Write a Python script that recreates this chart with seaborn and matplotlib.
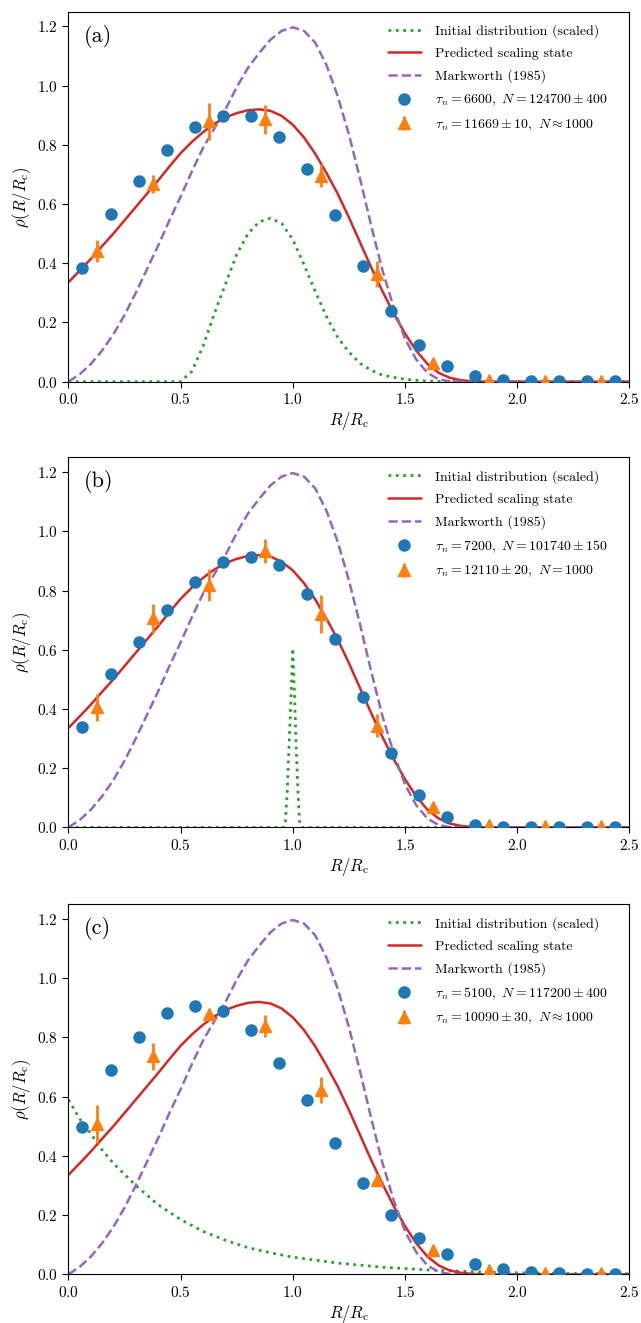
import matplotlib
matplotlib.use("Agg")
import matplotlib.pyplot as plt
import seaborn as sns

# ---------------- data ----------------
# Predicted scaling state (same in all panels)
red_x = [0.0, 0.05, 0.1, 0.15, 0.2, 0.25, 0.3, 0.35, 0.4, 0.45, 0.5, 0.55, 0.6, 0.65,
         0.7, 0.75, 0.8, 0.85, 0.9, 0.95, 1.0, 1.05, 1.1, 1.15, 1.2, 1.25, 1.3, 1.35,
         1.4, 1.45, 1.5, 1.55, 1.6, 1.65, 1.7, 1.75, 1.8, 1.85, 2.0, 2.5]
red_y = [0.336, 0.375, 0.415, 0.458, 0.50, 0.545, 0.59, 0.635, 0.68, 0.727, 0.772, 0.81,
         0.843, 0.871, 0.893, 0.907, 0.917, 0.92, 0.915, 0.898, 0.868, 0.825, 0.77, 0.705,
         0.635, 0.555, 0.47, 0.385, 0.305, 0.23, 0.163, 0.105, 0.06, 0.03, 0.013, 0.005,
         0.0015, 0.0, 0.0, 0.0]

# Markworth (1985)
mw_x = [0.0, 0.05, 0.1, 0.15, 0.2, 0.25, 0.3, 0.35, 0.4, 0.45, 0.5, 0.55, 0.6, 0.65,
        0.7, 0.75, 0.8, 0.85, 0.9, 0.95, 1.0, 1.05, 1.1, 1.15, 1.2, 1.25, 1.3, 1.35,
        1.4, 1.45, 1.5, 1.55, 1.6, 1.65, 1.7, 1.75, 2.5]
mw_y = [0.0, 0.025, 0.06, 0.105, 0.16, 0.225, 0.30, 0.38, 0.46, 0.545, 0.625, 0.71,
        0.79, 0.855, 0.92, 0.995, 1.06, 1.11, 1.155, 1.185, 1.197, 1.185, 1.145, 1.07,
        0.965, 0.835, 0.685, 0.525, 0.375, 0.25, 0.145, 0.075, 0.03, 0.008, 0.001, 0.0, 0.0]

# Initial distributions (scaled)
init_a_x = [0.0, 0.5, 0.55, 0.6, 0.65, 0.7, 0.75, 0.8, 0.85, 0.9, 0.95, 1.0, 1.05, 1.1,
            1.15, 1.2, 1.25, 1.3, 1.35, 1.4, 1.5, 1.6, 1.7, 2.5]
init_a_y = [0.0, 0.0, 0.035, 0.12, 0.23, 0.33, 0.43, 0.50, 0.54, 0.552, 0.535, 0.48,
            0.395, 0.305, 0.22, 0.15, 0.10, 0.062, 0.038, 0.022, 0.008, 0.002, 0.0, 0.0]

init_b_x = [0.0, 0.96, 0.967, 0.975, 0.983, 0.992, 1.0, 1.008, 1.015, 1.023, 1.030, 1.04, 2.5]
init_b_y = [0.0, 0.0, 0.02, 0.12, 0.27, 0.44, 0.605, 0.44, 0.27, 0.12, 0.02, 0.0, 0.0]

init_c_x = [0.0, 0.05, 0.1, 0.15, 0.2, 0.3, 0.4, 0.5, 0.6, 0.7, 0.8, 0.9, 1.0, 1.2,
            1.4, 1.6, 1.8, 2.0, 2.25, 2.5]
init_c_y = [0.59, 0.525, 0.475, 0.42, 0.375, 0.30, 0.235, 0.185, 0.145, 0.115, 0.09,
            0.073, 0.058, 0.038, 0.024, 0.015, 0.009, 0.005, 0.003, 0.002]

# Simulation bins
circ_x = [0.0625, 0.1875, 0.3125, 0.4375, 0.5625, 0.6875, 0.8125, 0.9375, 1.0625, 1.1875,
          1.3125, 1.4375, 1.5625, 1.6875, 1.8125, 1.9375, 2.0625, 2.1875, 2.3125, 2.4375]
tri_x = [0.125, 0.375, 0.625, 0.875, 1.125, 1.375, 1.625, 1.875, 2.125, 2.375]

circ_a = [0.385, 0.565, 0.677, 0.781, 0.861, 0.899, 0.899, 0.828, 0.72, 0.562,
          0.392, 0.238, 0.123, 0.052, 0.018, 0.007, 0.002, 0.002, 0.001, 0.001]
tri_a = [0.442, 0.667, 0.879, 0.886, 0.696, 0.364, 0.064, 0.006, 0.003, 0.003]
tri_a_err = [0.037, 0.031, 0.062, 0.048, 0.04, 0.045, 0.01, 0.002, 0.001, 0.001]

circ_b = [0.338, 0.518, 0.625, 0.735, 0.829, 0.896, 0.913, 0.887, 0.789, 0.637,
          0.442, 0.251, 0.110, 0.035, 0.008, 0.003, 0.001, 0.001, 0.0005, 0.0005]
tri_b = [0.406, 0.706, 0.819, 0.933, 0.721, 0.344, 0.068, 0.009, 0.005, 0.005]
tri_b_err = [0.045, 0.049, 0.053, 0.04, 0.064, 0.038, 0.01, 0.002, 0.001, 0.001]

circ_c = [0.498, 0.689, 0.802, 0.883, 0.905, 0.890, 0.825, 0.715, 0.588, 0.442,
          0.310, 0.202, 0.124, 0.068, 0.036, 0.017, 0.009, 0.005, 0.002, 0.001]
tri_c = [0.507, 0.736, 0.881, 0.839, 0.623, 0.319, 0.081, 0.014, 0.006, 0.005]
tri_c_err = [0.065, 0.046, 0.01, 0.036, 0.044, 0.02, 0.01, 0.002, 0.001, 0.001]

panel_labels = ["(a)", "(b)", "(c)"]
circ_labels = [r"$\tau_n = 6600,\ N = 124700 \pm 400$",
               r"$\tau_n = 7200,\ N = 101740 \pm 150$",
               r"$\tau_n = 5100,\ N = 117200 \pm 400$"]
tri_labels = [r"$\tau_n = 11669 \pm 10,\ N \approx 1000$",
              r"$\tau_n = 12110 \pm 20,\ N = 1000$",
              r"$\tau_n = 10090 \pm 30,\ N \approx 1000$"]

# ---------------- style ----------------
sns.set_style("ticks", rc={"axes.edgecolor": "black", "text.color": "black",
                           "xtick.color": "black", "ytick.color": "black",
                           "axes.labelcolor": "black"})
plt.rcParams["font.family"] = ["cmr10", "DejaVu Serif"]
plt.rcParams["mathtext.fontset"] = "cm"
plt.rcParams["axes.formatter.use_mathtext"] = True
plt.rcParams["axes.unicode_minus"] = False
plt.rcParams["xtick.direction"] = "out"
plt.rcParams["ytick.direction"] = "out"

C_GREEN, C_RED, C_PURPLE = "#2ca02c", "#d62728", "#9467bd"
C_BLUE, C_ORANGE = "#1f77b4", "#ff7f0e"

fig = plt.figure(figsize=(6.41, 13.23), dpi=100)
tops = [0.9912, 0.6543, 0.3165]
height = 0.2797
left = 0.1068
width = 0.8750

inits = [(init_a_x, init_a_y), (init_b_x, init_b_y), (init_c_x, init_c_y)]
circs = [circ_a, circ_b, circ_c]
tris = [(tri_a, tri_a_err), (tri_b, tri_b_err), (tri_c, tri_c_err)]

for i in range(3):
    ax = fig.add_axes([left, tops[i] - height, width, height])
    ix, iy = inits[i]
    sns.lineplot(x=ix, y=iy, ax=ax, color=C_GREEN, linestyle=":", linewidth=2,
                 label="Initial distribution (scaled)", sort=False, estimator=None)
    sns.lineplot(x=red_x, y=red_y, ax=ax, color=C_RED, linestyle="-", linewidth=1.8,
                 label="Predicted scaling state", sort=False, estimator=None)
    sns.lineplot(x=mw_x, y=mw_y, ax=ax, color=C_PURPLE, linestyle="--", linewidth=1.8,
                 label="Markworth (1985)", sort=False, estimator=None)
    ax.plot(circ_x, circs[i], linestyle="none", marker="o", markersize=8,
            color=C_BLUE, label=circ_labels[i], zorder=3)
    ty, te = tris[i]
    ax.errorbar(tri_x, ty, yerr=te, fmt="^", markersize=8.5, color=C_ORANGE,
                elinewidth=2, capsize=0, label=tri_labels[i], zorder=4)
    ax.set_xlim(0, 2.5)
    ax.set_ylim(0, 1.25)
    ax.set_xticks([0.0, 0.5, 1.0, 1.5, 2.0, 2.5])
    ax.set_yticks([0.0, 0.2, 0.4, 0.6, 0.8, 1.0, 1.2])
    ax.tick_params(labelsize=11, length=4, width=0.8)
    ax.set_xlabel(r"$R/R_\mathrm{c}$", fontsize=12, labelpad=2)
    ax.set_ylabel(r"$\rho(R/R_\mathrm{c})$", fontsize=12, labelpad=3)
    ax.text(0.027, 0.965, panel_labels[i], transform=ax.transAxes, fontsize=16,
            va="top", ha="left")
    for s in ax.spines.values():
        s.set_linewidth(0.8)
    ax.legend(loc="upper right", bbox_to_anchor=(0.984, 1.0), frameon=False,
              fontsize=10, handlelength=2.4, handletextpad=1.0,
              borderaxespad=0.5, labelspacing=0.68)

fig.savefig("out.png", dpi=100)
